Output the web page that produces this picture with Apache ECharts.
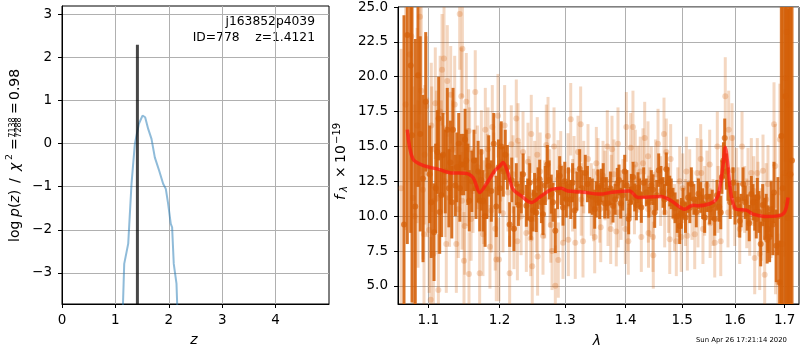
<!DOCTYPE html>
<html><head><meta charset="utf-8">
<script src="https://cdn.jsdelivr.net/npm/echarts@6/dist/echarts.min.js"></script>
<style>html,body{margin:0;padding:0;background:#fff}#c{width:800px;height:350px}</style>
</head><body><div id="c"></div>
<script>
// ---------- left panel: p(z) ----------
const pzZ = [1.13,1.165,1.24,1.302,1.364,1.44,1.508,1.557,1.614,1.676,1.738,1.82,1.894,1.944,1.988,2.037,2.062,2.093,2.144,2.17];
const pzLogp = [-4.2,-2.79,-2.32,-0.93,-0.01,0.46,0.65,0.61,0.34,0.11,-0.32,-0.63,-0.93,-1.05,-1.40,-1.86,-1.94,-2.79,-3.25,-4.2];
const zBest = 1.4121;
const zBestTop = 2.29;
const zTicks = [0,1,2,3,4];
const logpTicks = [-3,-2,-1,0,1,2,3];

// ---------- right panel: spectrum ----------
const lamTicks = [1.1,1.2,1.3,1.4,1.5,1.6,1.7];
const fluxTicks = [5,7.5,10,12.5,15,17.5,20,22.5,25];

const darkLam = [1.0678,1.0721,1.0766,1.0783,1.0826,1.0862,1.0892,1.0929,1.0965,1.1040,1.1077,1.1121,1.1154,1.1199,1.1258,1.1300,1.1337,1.1369,1.1416,1.1452,1.1486,1.1522,1.1564,1.1631,1.1712,1.1760,1.1842,1.1915,1.1952,
1.2025,1.2084,1.2149,1.2213,1.2248,1.2323,1.2399,1.2450,1.2501,1.2551,1.2603,1.2654,1.2721,1.2783,1.2846,1.2915,1.2967,1.3020,1.3090,1.3154,1.3234,1.3325,1.3397,1.3479,1.3534,
1.3589,1.3645,1.3700,1.3784,1.3856,1.3914,1.3982,1.4051,1.4096,1.4154,1.4211,1.4269,1.4356,1.4444,1.4504,1.4575,1.4652,1.4711,1.4773,1.4832,1.4910,1.4954,1.5015,1.5107,1.5168,1.5260,
1.5342,1.5417,1.5512,1.5608,1.5723,1.5800,1.5863,1.5961,1.6058,1.6092,1.6157,1.6241,1.6321,1.6389,1.6441,1.6509,1.6590,1.6657,1.6724,1.6780,1.6827,1.6897,1.6931,1.7013,1.7069,1.7096,1.7153,
1.1018,1.1100,1.1140,1.1178,1.1230,1.1280,1.1320,1.1390,1.1432,1.1505,1.1545,1.1600,1.1660,1.1690,1.1735,1.1790,1.1815,1.1880,1.1985,
1.2005,1.2055,1.2115,1.2180,1.2280,1.2350,1.2420,1.2470,1.2525,1.2578,1.2630,1.2690,1.2750,1.2810,1.2880,1.2940,1.2995,1.3055,1.3120,1.3190,1.3270,1.3360,1.3440,1.3505,
1.3560,1.3620,1.3672,1.3740,1.3820,1.3885,1.3950,1.4020,1.4075,1.4125,1.4183,1.4240,1.4310,1.4400,1.4475,1.4540,1.4615,1.4680,1.4742,1.4800,1.4870,1.4985,1.5060,1.5140,1.5215,1.5300,
1.5380,1.5460,1.5560,1.5650,1.5690,1.5745,1.5775,1.5830,1.5905,1.6000,1.6120,1.6200,1.6280,1.6355,1.6420,1.6475,1.6550,1.6620,1.6640,1.6690,1.6755,1.6860,1.6960,1.7040,1.7120];
const darkFlux = [9.4,23.0,20.8,15.8,10.7,20.1,15.9,12.7,18.2,11.0,8.85,14.6,10.3,14.4,16.2,13.85,16.2,12.2,15.2,13.7,13.7,14.0,11.1,14.0,11.1,11.1,13.6,15.2,10.7,
15.0,14.4,9.4,9.1,12.3,11.7,10.74,12.4,10.4,10.26,12.65,10.14,13.7,11.58,8.95,12.9,10.62,11.2,11.2,10.4,13.4,13.1,11.5,10.5,12.05,
12.2,10.93,10.93,10.74,12.36,10.93,13.2,9.8,11.93,11.34,12.05,10.62,11.7,12.2,10.26,13.3,11.7,13.37,11.8,10.93,10.0,9.3,10.93,11.34,12.3,10.3,
11.34,9.9,10.5,9.8,10.26,15.6,12.3,12.4,11.2,9.66,12.3,10.26,11.58,10.26,11.34,8.0,9.8,9.07,10.5,11.7,7.87,5.25,15.75,18.6,9.86,12.9,14.0,
13.0,12.0,17.0,11.5,13.2,12.0,11.0,13.5,12.0,15.5,13.0,12.5,12.0,13.2,12.6,10.0,12.0,11.8,13.5,
12.0,13.2,13.5,12.6,10.8,13.0,11.2,9.8,11.6,12.0,11.0,12.2,12.6,11.0,11.9,12.2,12.5,12.1,12.4,11.8,12.0,12.3,11.4,11.2,
11.0,12.6,11.6,12.0,11.2,12.6,11.5,12.2,11.0,12.8,10.8,11.6,12.4,11.0,11.9,11.5,12.5,11.2,12.4,11.6,10.6,10.2,9.9,10.6,11.2,11.6,
10.9,11.4,10.8,11.5,10.7,12.8,14.0,13.2,11.0,10.6,10.4,11.0,9.5,11.0,9.8,10.3,10.8,10.0,8.3,8.5,9.4,10.0,12.0,11.0,13.0];
const darkErr = [15,15,12,12,12,8,7,6,5,4,3.5,3,3,3,3,3,3,2.2,2.2,2.2,2.2,2.2,2.2,2.2,2.2,2.2,2.2,2.2,2.2,
1.8,1.8,1.6,1.6,1.5,1.5,1.5,1.4,1.5,1.4,1.4,1.5,1.4,1.4,1.6,1.4,1.3,1.3,1.4,1.3,1.4,1.3,1.3,1.4,1.3,
1.2,1.1,1.1,1.2,1.1,1.1,1.2,1.1,1.1,1.0,1.1,1.1,1.0,1.1,1.1,1.2,1.1,1.2,1.1,1.1,1.2,1.3,1.1,1.1,1.2,1.1,
1.1,1.1,1.1,1.2,1.2,1.4,1.2,1.1,1.2,1.2,1.2,1.3,1.3,1.3,1.4,1.6,1.5,1.7,2.0,2.2,2.6,3.0,15,15,15,15,15,
3.5,3.2,3.0,3.0,3.0,2.8,2.6,2.5,2.4,2.2,2.2,2.2,2.2,2.2,2.2,2.2,2.2,2.2,2.0,
1.8,1.8,1.6,1.6,1.5,1.5,1.5,1.5,1.5,1.5,1.5,1.4,1.4,1.4,1.4,1.4,1.4,1.4,1.4,1.4,1.3,1.3,1.3,1.3,
1.2,1.2,1.2,1.2,1.1,1.1,1.1,1.1,1.1,1.1,1.1,1.1,1.1,1.1,1.1,1.1,1.1,1.1,1.1,1.1,1.1,1.1,1.1,1.1,1.1,1.1,
1.1,1.1,1.1,1.1,1.1,1.2,1.3,1.3,1.2,1.2,1.2,1.2,1.3,1.3,1.4,1.5,1.5,1.6,1.7,1.8,2.2,2.8,15,15,15];

const lightLam = [1.0753,1.0774,1.0797,1.0818,1.0862,1.0888,1.0929,1.0942,1.0952,1.0973,1.1032,1.1040,1.1046,1.1068,1.1094,1.1131,1.1136,1.1176,1.1186,1.1213,1.1244,1.1258,1.1289,1.1305,1.1360,1.1383,1.1430,1.1452,1.1463,1.1467,1.1490,1.1500,1.1522,1.1555,1.1560,1.1569,1.1617,1.1649,1.1712,1.1736,1.1760,1.1793,1.1822,1.1832,1.1880,1.1894,1.1937,1.1952,1.1977,1.1992,
1.2016,1.2075,1.2124,1.2149,1.2173,1.2213,1.2248,1.2264,1.2274,1.2299,1.2349,1.2399,1.2424,1.2465,1.2474,1.2489,1.2526,1.2551,1.2566,1.2571,1.2654,1.2681,1.2705,1.2732,1.2774,1.2795,1.2826,1.2846,1.2888,1.2893,1.2931,1.2967,1.3047,1.3052,1.3090,1.3143,1.3163,1.3207,1.3250,1.3259,1.3288,1.3369,1.3423,1.3479,1.3506,
1.3534,1.3562,1.3579,1.3617,1.3688,1.3700,1.3745,1.3755,1.3767,1.3839,1.3868,1.3873,1.3953,1.3993,1.4010,1.4039,1.4044,1.4085,1.4124,1.4164,1.4211,1.4269,1.4298,1.4328,1.4386,1.4391,1.4395,1.4444,1.4474,1.4479,1.4563,1.4670,1.4682,1.4711,1.4773,1.4790,1.4860,1.4892,1.4954,1.4982,1.5058,1.5076,1.5094,1.5138,1.5231,1.5279,1.5292,
1.5342,1.5353,1.5385,1.5417,1.5512,1.5575,1.5608,1.5657,1.5671,1.5723,1.5810,1.5863,1.5876,1.5941,1.5994,1.6025,1.6092,1.6137,1.6190,1.6255,1.6289,1.6321,1.6389,1.6441,1.6455,1.6489,1.6556,1.6590,1.6657,1.6780,1.6806,1.6811,1.6862,1.7001,1.7013,1.7034,
1.0640,1.0700,1.0850,1.0905,1.0990,1.1010,1.1110,1.1160,1.1225,1.1330,1.1410,1.1535,1.1590,1.1680,1.1770,1.1860,1.1915,
1.2050,1.2200,1.2320,1.2440,1.2610,1.2760,1.2990,1.3120,1.3300,1.3460,1.3650,1.3800,1.3920,1.4150,1.4250,1.4420,1.4520,1.4610,1.4750,1.4920,1.5010,1.5180,
1.5460,1.5520,1.5740,1.5960,1.6060,1.6230,1.6370,1.6520,1.6620,1.6720,1.6900,1.6950,1.7080];
const lightFlux = [21.6,22.9,11.3,10.0,12.3,24.3,11.9,8.7,14.4,17.9,4.0,16.5,14.8,7.3,18.1,11.3,4.7,14.3,20.5,21.3,8.0,19.7,11.3,18.7,18.0,8.0,24.5,18.6,11.1,22.0,6.8,9.3,18.2,16.1,5.85,14.8,11.8,18.9,5.9,14.6,8.7,16.2,12.9,14.8,10.4,16.4,9.1,6.9,17.2,6.9,
13.85,16.5,11.7,5.9,15.15,9.1,17.0,8.2,15.4,12.5,14.6,8.8,13.9,8.4,15.9,6.4,12.5,10.2,14.4,7.1,8.6,11.2,15.1,15.75,9.36,7.5,15.0,5.0,12.65,6.85,13.5,8.1,13.25,8.3,16.95,13.25,8.1,14.6,16.6,11.2,8.2,14.1,11.2,8.5,13.8,
13.1,10.5,9.2,12.9,15.0,10.26,9.07,11.9,14.8,8.9,15.2,10.26,11.7,9.07,16.4,10.0,8.2,14.9,16.4,13.7,12.65,8.5,13.8,15.6,14.3,10.5,8.8,12.5,8.5,7.2,15.2,15.9,10.26,14.6,8.35,14.1,9.9,8.2,12.5,8.5,10.26,13.2,8.6,12.4,8.7,13.1,10.26,
14.1,13.1,9.07,11.1,13.7,10.26,8.1,15.0,11.2,8.2,18.6,10.26,16.2,15.6,10.26,12.4,9.07,15.0,11.2,12.4,9.66,13.1,7.0,13.1,11.4,7.3,13.25,5.8,12.3,16.6,13.6,7.4,5.25,13.1,19.9,23.2,
12.0,18.0,16.5,19.0,13.5,9.0,15.0,17.5,12.5,14.8,10.5,12.8,9.8,13.5,11.0,7.8,13.0,
10.2,13.0,10.0,11.5,13.2,12.0,10.8,11.5,12.8,10.8,12.2,13.0,10.8,11.2,13.2,11.0,13.0,11.8,11.3,11.0,12.0,10.8,
12.2,9.5,12.6,13.3,11.0,10.2,11.8,9.4,11.2,9.8,15.5,8.0,18.0];
const lightErr = [9,9,8,8,6,7,5,5,5,5,4.5,4.5,4.5,4,4,4,4,4,4,4,3.5,4,3.5,3.5,3.5,3.5,4,3.5,3.5,3.5,3.5,3.5,3.5,3,3,3,3,3,3,3,3,3,3,3,3,3,3,3,3,3,
2.8,2.9,2.8,2.7,2.8,2.9,2.8,2.8,2.7,2.8,2.9,2.8,2.8,2.7,2.8,2.8,2.9,2.8,2.7,2.8,2.8,2.8,2.9,2.8,2.7,2.8,2.8,2.9,2.8,2.7,2.6,2.6,2.7,2.6,2.6,2.5,2.6,2.6,2.7,2.6,2.6,2.5,2.6,2.6,2.6,
2.5,2.4,2.5,2.5,2.6,2.4,2.5,2.5,2.4,2.5,2.6,2.5,2.4,2.5,2.5,2.5,2.4,2.5,2.6,2.5,2.4,2.5,2.5,2.6,2.5,2.4,2.5,2.5,2.5,2.4,2.5,2.6,2.5,2.4,2.5,2.5,2.4,2.5,2.5,2.5,2.4,2.5,2.5,2.4,2.5,2.5,2.5,
2.5,2.4,2.5,2.5,2.5,2.4,2.5,2.5,2.4,2.5,2.8,2.5,2.8,2.5,2.4,2.5,2.5,2.5,2.4,2.5,2.5,2.5,2.6,2.5,2.5,2.6,2.6,2.8,2.8,3,3,3,3.5,6,6,8,
10,9,7,6,5,4.5,4,4,4,3.5,3.5,3.5,3,3,3,3,3,
2.8,2.8,2.8,2.8,2.8,2.8,2.6,2.6,2.6,2.6,2.5,2.5,2.5,2.5,2.5,2.5,2.5,2.5,2.5,2.5,2.5,2.5,
2.5,2.5,2.5,2.5,2.5,2.5,2.5,2.6,2.6,2.8,4,5,8];

const modelLam = [1.0721,1.0795,1.0951,1.1131,1.1313,1.1500,1.1617,1.1713,1.1807,1.1929,1.2006,1.2050,1.2124,1.2198,1.2322,1.2474,1.2627,1.2782,1.2939,1.3045,1.3259,1.3565,1.3811,1.4066,1.4209,1.4621,1.4801,1.5045,1.5198,1.5292,1.5541,1.5669,1.5765,1.5810,1.5862,1.5926,1.6024,1.6221,1.6354,1.6590,1.6861,1.7000,1.7070];
const modelFlux = [16.2,14.1,13.6,13.37,13.1,13.08,12.77,11.7,12.3,13.25,13.6,13.85,13.1,11.93,11.45,10.98,11.45,11.9,12.0,11.8,11.74,11.58,11.74,11.8,11.34,11.41,11.1,10.5,10.79,10.74,10.93,11.45,13.6,14.95,13.6,11.45,10.5,10.43,10.14,9.98,10.02,10.3,11.34];

const labelTop = 'j163852p4039';
const labelBottom = 'ID=778    z=1.4121';
const stamp = 'Sun Apr 26 17:21:14 2020';

const FONT = '"DejaVu Sans", sans-serif';
const DARK = 'rgba(212,96,8,0.88)';
const LIGHT = 'rgba(212,96,8,0.25)';
const LIGHTDOT = 'rgba(212,96,8,0.30)';
const GRIDC = '#b0b0b0';
const minus = v => (v < 0 ? '\u2212' + Math.abs(v) : String(v));

function errBars(lam, flux, err, color, width) {
  return {
    type: 'custom', xAxisIndex: 1, yAxisIndex: 1, silent: true,
    data: lam.map((l, i) => [l, flux[i] - err[i], flux[i] + err[i]]),
    encode: {x: 0, y: [1, 2]},
    renderItem: function (params, api) {
      const cs = params.coordSys;
      const p1 = api.coord([api.value(0), api.value(1)]);
      const p2 = api.coord([api.value(0), api.value(2)]);
      const top = cs.y, bot = cs.y + cs.height;
      const y1 = Math.min(Math.max(p1[1], top), bot);
      const y2 = Math.min(Math.max(p2[1], top), bot);
      return {type: 'line', shape: {x1: p1[0], y1: y1, x2: p1[0], y2: y2},
              style: {stroke: color, lineWidth: width}};
    },
    z: 2
  };
}

const axisCommon = {
  axisLine: {show: true, onZero: false, lineStyle: {color: '#000', width: 1}},
  axisTick: {show: true, inside: false, length: 4, lineStyle: {color: '#000'}},
  splitLine: {show: true, lineStyle: {color: GRIDC, width: 1}},
};

const chart = echarts.init(document.getElementById('c'), null, {renderer: 'canvas'});
chart.setOption({
  animation: false,
  backgroundColor: '#fff',
  textStyle: {fontFamily: FONT},
  grid: [
    {left: 62, top: 6, width: 267, height: 298, show: true, borderColor: '#000', borderWidth: 1, backgroundColor: 'transparent'},
    {left: 398, top: 6, width: 401, height: 298, show: true, borderColor: '#000', borderWidth: 1, backgroundColor: 'transparent'}
  ],
  xAxis: [
    Object.assign({}, axisCommon, {type: 'value', gridIndex: 0, min: 0, max: 5,
      axisTick: Object.assign({}, axisCommon.axisTick, {customValues: zTicks}),
      axisLabel: {customValues: zTicks, fontSize: 13.5, color: '#000', margin: 9, fontFamily: FONT}}),
    Object.assign({}, axisCommon, {type: 'log', logBase: 10, gridIndex: 1, min: 1.06, max: 1.73,
      axisTick: Object.assign({}, axisCommon.axisTick, {customValues: lamTicks}),
      axisLabel: {customValues: lamTicks, fontSize: 13.5, color: '#000', margin: 9, fontFamily: FONT,
        formatter: v => Number(v).toFixed(1)}})
  ],
  yAxis: [
    Object.assign({}, axisCommon, {type: 'value', gridIndex: 0, min: -3.72, max: 3.19,
      axisTick: Object.assign({}, axisCommon.axisTick, {customValues: logpTicks}),
      axisLabel: {customValues: logpTicks, fontSize: 13.5, color: '#000', margin: 10, fontFamily: FONT,
        formatter: v => minus(Math.round(v))}}),
    Object.assign({}, axisCommon, {type: 'value', gridIndex: 1, min: 3.7, max: 25,
      axisTick: Object.assign({}, axisCommon.axisTick, {customValues: fluxTicks}),
      axisLabel: {customValues: fluxTicks, fontSize: 13.5, color: '#000', margin: 10, fontFamily: FONT,
        formatter: v => Number(v).toFixed(1)}})
  ],
  series: [
    {type: 'line', xAxisIndex: 0, yAxisIndex: 0, data: pzZ.map((z, i) => [z, pzLogp[i]]),
     showSymbol: false, clip: true, lineStyle: {color: 'rgba(31,119,180,0.5)', width: 2}, silent: true},
    {type: 'line', xAxisIndex: 0, yAxisIndex: 0, data: [[zBest, -3.72], [zBest, zBestTop]],
     showSymbol: false, clip: true, lineStyle: {color: 'rgba(0,0,0,0.72)', width: 3}, silent: true},
    errBars(lightLam, lightFlux, lightErr, LIGHT, 3),
    {type: 'scatter', xAxisIndex: 1, yAxisIndex: 1, data: lightLam.map((l, i) => [l, lightFlux[i]]),
     symbolSize: 6, itemStyle: {color: LIGHTDOT}, silent: true, clip: true, z: 3},
    errBars(darkLam, darkFlux, darkErr, DARK, 3),
    {type: 'scatter', xAxisIndex: 1, yAxisIndex: 1, data: darkLam.map((l, i) => [l, darkFlux[i]]),
     symbolSize: 6, itemStyle: {color: DARK}, silent: true, clip: true, z: 5},
    {type: 'line', xAxisIndex: 1, yAxisIndex: 1, data: modelLam.map((l, i) => [l, modelFlux[i]]),
     showSymbol: false, smooth: 0.3, clip: true, lineStyle: {color: 'rgba(255,20,20,0.7)', width: 3.5}, silent: true, z: 6}
  ],
  graphic: [
    {type: 'text', x: 315, y: 22, style: {text: labelTop, font: '12.3px ' + FONT, fill: '#000', align: 'right', verticalAlign: 'middle'}},
    {type: 'text', x: 315, y: 38, style: {text: labelBottom, font: '12.3px ' + FONT, fill: '#000', align: 'right', verticalAlign: 'middle'}},
    {type: 'text', x: 194, y: 340, style: {text: 'z', font: 'italic 14px ' + FONT, fill: '#000', align: 'center', verticalAlign: 'middle'}},
    {type: 'text', x: 597, y: 341, style: {text: 'λ', font: 'italic 14px ' + FONT, fill: '#000', align: 'center', verticalAlign: 'middle'}},
    {type: 'text', x: 787, y: 340, style: {text: stamp, font: '6.9px ' + FONT, fill: '#000', align: 'right', verticalAlign: 'middle'}},
    {type: 'group', x: 15, y: 242, rotation: Math.PI / 2, children: [
      {type: 'text', x: 0, y: 0, style: {text: 'log', font: '14px ' + FONT, fill: '#000', verticalAlign: 'middle'}},
      {type: 'text', x: 25, y: 0, style: {text: '{i|p}{n|(}{i|z}{n|)}', fill: '#000', verticalAlign: 'middle',
        rich: {i: {fontStyle: 'italic', fontSize: 14, fontFamily: FONT}, n: {fontSize: 14, fontFamily: FONT}}}},
      {type: 'text', x: 59, y: 0, style: {text: '/', font: '14px ' + FONT, fill: '#000', verticalAlign: 'middle'}},
      {type: 'text', x: 71, y: 0, style: {text: 'χ', font: 'italic 14px ' + FONT, fill: '#000', verticalAlign: 'middle'}},
      {type: 'text', x: 82, y: -5, style: {text: '2', font: '9.5px ' + FONT, fill: '#000', verticalAlign: 'middle'}},
      {type: 'text', x: 92, y: 0, style: {text: '=', font: '14px ' + FONT, fill: '#000', verticalAlign: 'middle'}},
      {type: 'text', x: 114.5, y: -2.5, style: {text: '7138', font: '8px ' + FONT, fill: '#000', align: 'center', verticalAlign: 'middle'}},
      {type: 'line', shape: {x1: 105, y1: 0.8, x2: 124, y2: 0.8}, style: {stroke: '#000', lineWidth: 0.6}},
      {type: 'text', x: 114.5, y: 4.3, style: {text: '7288', font: '8px ' + FONT, fill: '#000', align: 'center', verticalAlign: 'middle'}},
      {type: 'text', x: 128, y: 0, style: {text: '=', font: '14px ' + FONT, fill: '#000', verticalAlign: 'middle'}},
      {type: 'text', x: 142, y: 0, style: {text: '0.98', font: '14px ' + FONT, fill: '#000', verticalAlign: 'middle'}}
    ]},
    {type: 'group', x: 341.5, y: 200, rotation: Math.PI / 2, children: [
      {type: 'text', x: 0, y: 0, style: {text: 'f', font: 'italic 14px ' + FONT, fill: '#000', verticalAlign: 'middle'}},
      {type: 'text', x: 8, y: 3, style: {text: 'λ', font: 'italic 10px ' + FONT, fill: '#000', verticalAlign: 'middle'}},
      {type: 'text', x: 22, y: 0, style: {text: '×', font: '14px ' + FONT, fill: '#000', verticalAlign: 'middle'}},
      {type: 'text', x: 37, y: 0, style: {text: '10', font: '14px ' + FONT, fill: '#000', verticalAlign: 'middle'}},
      {type: 'text', x: 56, y: -4, style: {text: '\u221219', font: '10px ' + FONT, fill: '#000', verticalAlign: 'middle'}}
    ]}
  ]
});
</script></body></html>
